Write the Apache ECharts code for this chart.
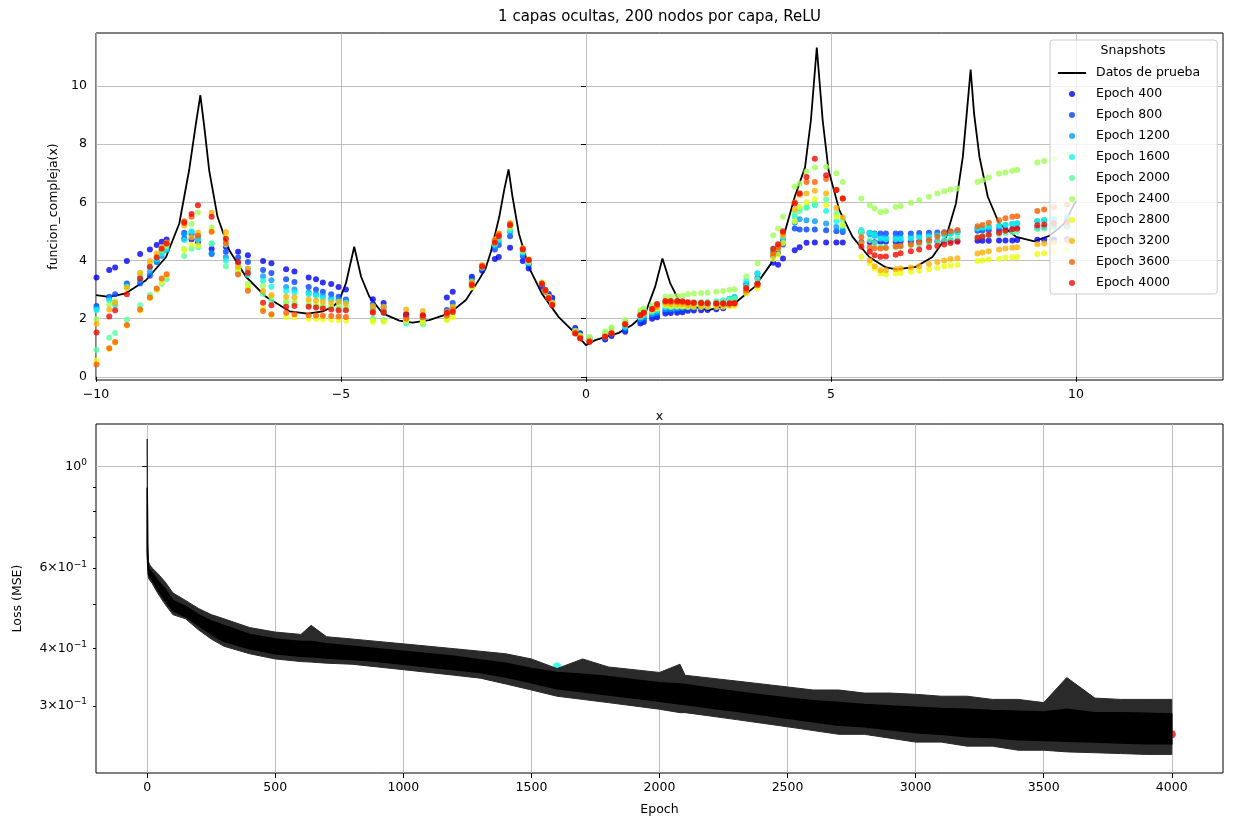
<!DOCTYPE html>
<html>
<head>
<meta charset="utf-8">
<script src="https://cdn.jsdelivr.net/npm/echarts@6/dist/echarts.min.js"></script>
<style>
  html, body { margin: 0; padding: 0; background: #fff; }
  #chart { width: 1233px; height: 826px; }
</style>
</head>
<body>
<div id="chart"></div>
<script>
// ==========================================
// Datos
// ==========================================
const SNAP_EPOCHS = [400, 800, 1200, 1600, 2000, 2400, 2800, 3200, 3600, 4000];

// curva de referencia "Datos de prueba"
const CURVE_X = [-10, -9.73, -9.39, -8.98, -8.57, -8.30, -8.10, -7.96, -7.87, -7.79, -7.69, -7.52, -7.28, -6.94,
  -6.53, -6.05, -5.68, -5.37, -5.17, -5.04, -4.90, -4.73, -4.59, -4.42, -4.15, -3.81, -3.54, -3.20, -2.79,
  -2.45, -2.18, -2.05, -1.94, -1.77, -1.67, -1.58, -1.50, -1.37, -1.17, -0.90, -0.56, -0.22, 0.0, 0.19,
  0.67, 0.94, 1.21, 1.41, 1.56, 1.72, 1.89, 2.18, 2.50, 3.03, 3.44, 3.78, 4.05, 4.26, 4.47, 4.59, 4.71,
  4.83, 4.95, 5.17, 5.44, 5.78, 6.12, 6.33, 6.73, 7.07, 7.35, 7.55, 7.69, 7.77, 7.85, 7.92, 8.03, 8.20,
  8.43, 8.78, 9.15, 9.46, 9.75, 10.0];
const CURVE_Y = [2.81, 2.75, 2.87, 3.32, 4.12, 5.27, 7.10, 8.71, 9.68, 8.59, 7.10, 5.50, 4.35, 3.44,
  2.75, 2.25, 2.17, 2.25, 2.41, 2.60, 3.21, 4.47, 3.44, 2.75, 2.18, 1.93, 1.86, 1.95, 2.18,
  2.64, 3.35, 3.72, 4.30, 5.50, 6.42, 7.13, 6.19, 4.93, 3.78, 2.86, 2.06, 1.49, 1.09, 1.26,
  1.51, 1.78, 2.18, 3.09, 4.07, 3.21, 2.64, 2.41, 2.29, 2.52, 3.09, 3.90, 4.93, 6.19, 7.20, 8.82, 11.32,
  8.82, 7.10, 5.73, 4.81, 4.12, 3.76, 3.69, 3.78, 4.12, 4.81, 5.96, 7.56, 9.05, 10.56, 9.05, 7.56, 6.19,
  5.27, 4.81, 4.66, 4.85, 5.25, 6.05];

// puntos x de prueba compartidos por todos los snapshots
const X_TEST = [-9.99, -9.73, -9.61, -9.37, -9.10, -8.90, -8.76, -8.66, -8.56, -8.20,
  -8.05, -7.92, -7.64, -7.35, -7.10, -6.90, -6.59, -6.42, -6.12, -5.95,
  -5.66, -5.51, -5.37, -5.20, -5.05, -4.90, -4.35, -4.13, -3.67, -3.33,
  -2.84, -2.72, -2.33, -2.12, -1.86, -1.78, -1.55, -1.29, -1.17, -0.90,
  -0.83, -0.76, -0.69, -0.22, -0.12, 0.07, 0.39, 0.52, 0.80, 1.11,
  1.18, 1.35, 1.45, 1.62, 1.73, 1.86, 1.97, 2.08, 2.20, 2.35,
  2.48, 2.66, 2.80, 2.93, 3.03, 3.27, 3.50, 3.82, 3.92, 4.02,
  4.26, 4.36, 4.50, 4.67, 4.90, 5.11, 5.24, 5.62, 5.79, 5.89,
  6.01, 6.12, 6.32, 6.42, 6.63, 6.80, 7.00, 7.17, 7.31, 7.44,
  7.58, 7.99, 8.09, 8.22, 8.43, 8.56, 8.70, 8.80, 9.21, 9.35,
  9.55, 9.82];

// predicciones de la red en cada snapshot
const PRED_E400 = [3.41, 3.67, 3.76, 3.98, 4.22, 4.38, 4.53, 4.64, 4.72, 4.75,
  4.72, 4.62, 4.39, 4.47, 4.30, 4.18, 3.98, 3.90, 3.70, 3.62,
  3.41, 3.35, 3.24, 3.19, 3.09, 3.00, 2.67, 2.54, 2.15, 2.10,
  2.73, 2.92, 3.44, 3.65, 4.05, 4.12, 4.44, 3.98, 3.72, 3.10,
  2.98, 2.85, 2.72, 1.68, 1.50, 1.28, 1.28, 1.40, 1.55, 1.83,
  1.88, 2.00, 2.05, 2.18, 2.19, 2.20, 2.22, 2.27, 2.28, 2.29,
  2.30, 2.32, 2.36, 2.45, 2.55, 2.90, 3.20, 3.92, 3.85, 4.07,
  4.35, 4.45, 4.61, 4.62, 4.62, 4.62, 4.62, 4.63, 4.63, 4.63,
  4.64, 4.64, 4.64, 4.65, 4.65, 4.65, 4.66, 4.66, 4.67, 4.67,
  4.67, 4.68, 4.68, 4.68, 4.69, 4.69, 4.69, 4.70, 4.71, 4.71,
  4.72, 4.73];
const PRED_E800 = [2.43, 2.75, 2.84, 3.21, 3.21, 3.47, 3.95, 4.30, 4.55, 4.95,
  4.90, 4.75, 4.22, 4.30, 4.10, 3.95, 3.67, 3.57, 3.35, 3.26,
  3.09, 3.00, 2.92, 2.84, 2.75, 2.66, 2.50, 2.40, 2.10, 2.05,
  2.30, 2.54, 3.40, 3.72, 4.38, 4.53, 4.83, 4.15, 3.85, 3.15,
  2.95, 2.75, 2.60, 1.62, 1.45, 1.25, 1.32, 1.45, 1.62, 1.92,
  1.98, 2.08, 2.12, 2.25, 2.26, 2.28, 2.30, 2.35, 2.38, 2.40,
  2.42, 2.48, 2.55, 2.65, 2.72, 3.15, 3.40, 4.15, 4.25, 4.55,
  5.10, 5.06, 5.06, 5.06, 5.04, 5.00, 4.98, 4.99, 4.95, 4.93,
  4.93, 4.93, 4.93, 4.93, 4.93, 4.94, 4.95, 4.96, 4.97, 4.98,
  5.00, 5.02, 5.03, 5.04, 5.05, 5.06, 5.07, 5.08, 5.12, 5.13,
  5.15, 5.18];
const PRED_E1200 = [2.35, 2.69, 2.55, 3.15, 3.30, 3.60, 3.95, 4.15, 4.35, 4.90,
  4.98, 4.85, 4.25, 4.12, 3.90, 3.70, 3.46, 3.32, 3.09, 3.00,
  2.90, 2.85, 2.78, 2.70, 2.65, 2.60, 2.40, 2.30, 2.05, 2.00,
  2.20, 2.40, 3.30, 3.75, 4.50, 4.65, 4.98, 4.22, 3.90, 3.18,
  2.95, 2.70, 2.55, 1.58, 1.42, 1.25, 1.35, 1.48, 1.68, 1.98,
  2.05, 2.15, 2.20, 2.32, 2.33, 2.35, 2.37, 2.42, 2.45, 2.47,
  2.50, 2.55, 2.60, 2.68, 2.74, 3.20, 3.55, 4.30, 4.40, 4.70,
  5.30, 5.42, 5.38, 5.35, 5.27, 5.15, 5.05, 4.95, 4.90, 4.85,
  4.80, 4.78, 4.78, 4.78, 4.80, 4.82, 4.85, 4.88, 4.90, 4.93,
  4.97, 5.10, 5.12, 5.15, 5.18, 5.22, 5.25, 5.27, 5.35, 5.38,
  5.42, 5.48];
const PRED_E1600 = [2.30, 2.62, 2.46, 3.10, 3.45, 3.75, 4.05, 4.25, 4.40, 4.70,
  5.00, 4.72, 4.58, 4.00, 3.75, 3.50, 3.30, 3.10, 2.95, 2.90,
  2.84, 2.78, 2.70, 2.63, 2.58, 2.55, 2.30, 2.20, 1.83, 1.85,
  2.10, 2.30, 3.25, 3.78, 4.55, 4.72, 5.05, 4.28, 3.92, 3.20,
  2.92, 2.70, 2.52, 1.55, 1.40, 1.28, 1.40, 1.52, 1.72, 2.05,
  2.12, 2.22, 2.28, 2.40, 2.40, 2.42, 2.43, 2.48, 2.50, 2.52,
  2.55, 2.58, 2.62, 2.68, 2.73, 3.30, 3.55, 4.35, 4.45, 4.80,
  5.50, 5.79, 5.84, 5.90, 5.70, 5.35, 5.20, 5.05, 4.95, 4.90,
  4.75, 4.72, 4.72, 4.73, 4.75, 4.78, 4.82, 4.86, 4.88, 4.92,
  4.96, 5.10, 5.13, 5.16, 5.20, 5.23, 5.26, 5.28, 5.36, 5.38,
  5.42, 5.48];
const PRED_E2000 = [0.92, 1.34, 1.51, 1.97, 2.46, 2.81, 3.00, 3.20, 3.35, 4.15,
  4.40, 4.45, 4.58, 3.80, 3.55, 3.07, 2.85, 2.60, 2.54, 2.50,
  2.45, 2.42, 2.40, 2.40, 2.35, 2.33, 2.00, 1.95, 1.88, 1.81,
  2.00, 2.25, 3.15, 3.75, 4.58, 4.78, 5.10, 4.32, 3.95, 3.22,
  2.95, 2.72, 2.52, 1.55, 1.40, 1.35, 1.52, 1.65, 1.88, 2.20,
  2.28, 2.38, 2.42, 2.55, 2.55, 2.55, 2.55, 2.55, 2.56, 2.57,
  2.58, 2.60, 2.62, 2.65, 2.68, 3.10, 3.35, 4.40, 4.55, 4.95,
  5.60, 5.70, 5.80, 5.95, 6.10, 5.60, 5.40, 4.95, 4.70, 4.60,
  4.47, 4.45, 4.46, 4.48, 4.52, 4.55, 4.62, 4.66, 4.70, 4.73,
  4.76, 4.81, 4.84, 4.87, 4.91, 4.94, 4.97, 4.99, 5.08, 5.10,
  5.14, 5.18];
const PRED_E2400 = [1.98, 2.49, 2.60, 3.05, 3.55, 3.92, 4.15, 4.35, 4.50, 4.40,
  5.25, 5.65, 5.13, 4.55, 3.65, 3.20, 3.12, 2.75, 2.60, 2.55,
  2.50, 2.48, 2.45, 2.42, 2.40, 2.38, 1.95, 1.92, 1.90, 1.85,
  1.98, 2.20, 3.10, 3.80, 4.60, 4.85, 5.15, 4.35, 3.98, 3.25,
  2.98, 2.75, 2.55, 1.58, 1.42, 1.38, 1.56, 1.70, 1.95, 2.29,
  2.35, 2.45, 2.50, 2.75, 2.75, 2.78, 2.79, 2.85, 2.86, 2.88,
  2.89, 2.92, 2.95, 2.98, 3.01, 3.45, 3.90, 4.87, 5.10, 5.50,
  6.53, 6.65, 7.05, 7.20, 7.22, 7.00, 6.70, 6.13, 5.90, 5.79,
  5.67, 5.69, 5.84, 5.87, 5.98, 6.07, 6.19, 6.30, 6.38, 6.44,
  6.47, 6.70, 6.76, 6.85, 6.99, 7.02, 7.08, 7.12, 7.37, 7.42,
  7.50, 7.65];
const PRED_E2800 = [0.55, 0.96, 1.18, 1.76, 2.28, 2.70, 2.98, 3.25, 3.48, 4.35,
  4.55, 4.52, 5.00, 4.85, 3.72, 3.07, 2.35, 2.12, 2.06, 2.05,
  2.00, 1.99, 1.98, 1.96, 1.95, 1.93, 1.89, 1.89, 1.95, 1.90,
  1.95, 2.05, 3.07, 3.80, 4.65, 4.90, 5.20, 4.40, 4.00, 3.22,
  2.95, 2.72, 2.50, 1.52, 1.35, 1.25, 1.40, 1.52, 1.80, 2.10,
  2.18, 2.28, 2.35, 2.45, 2.42, 2.42, 2.42, 2.40, 2.40, 2.40,
  2.40, 2.40, 2.41, 2.42, 2.43, 2.86, 3.05, 4.05, 4.20, 4.60,
  5.35, 5.85, 6.00, 6.10, 5.90, 5.50, 5.21, 4.12, 3.90, 3.72,
  3.55, 3.52, 3.55, 3.57, 3.61, 3.65, 3.70, 3.75, 3.80, 3.83,
  3.85, 3.98, 4.00, 4.03, 4.06, 4.09, 4.11, 4.12, 4.22, 4.25,
  4.30, 4.35];
const PRED_E3200 = [1.82, 2.31, 2.54, 3.07, 3.57, 3.98, 4.24, 4.45, 4.62, 5.20,
  4.80, 4.95, 5.64, 4.98, 3.78, 3.72, 2.95, 2.81, 2.75, 2.73,
  2.66, 2.62, 2.58, 2.55, 2.58, 2.52, 2.43, 2.41, 2.31, 2.26,
  2.23, 2.41, 3.26, 3.84, 4.72, 4.93, 5.29, 4.42, 4.03, 3.20,
  2.96, 2.72, 2.52, 1.55, 1.38, 1.25, 1.40, 1.52, 1.82, 2.12,
  2.20, 2.32, 2.40, 2.52, 2.50, 2.50, 2.50, 2.48, 2.48, 2.47,
  2.47, 2.46, 2.47, 2.48, 2.49, 2.95, 3.15, 4.20, 4.40, 4.85,
  5.75, 6.25, 6.30, 6.40, 6.30, 5.80, 5.48, 4.60, 4.00, 3.80,
  3.66, 3.66, 3.70, 3.72, 3.76, 3.80, 3.88, 3.95, 4.00, 4.05,
  4.08, 4.24, 4.27, 4.32, 4.38, 4.41, 4.44, 4.45, 4.56, 4.58,
  4.62, 4.67];
const PRED_E3600 = [0.42, 0.98, 1.20, 1.78, 2.31, 2.73, 3.04, 3.38, 3.53, 5.35,
  5.50, 4.85, 4.99, 4.60, 3.52, 2.96, 2.26, 2.15, 2.20, 2.15,
  2.12, 2.11, 2.10, 2.09, 2.07, 2.06, 2.25, 2.25, 2.00, 2.05,
  2.10, 2.30, 3.20, 3.82, 4.68, 4.90, 5.25, 4.40, 4.02, 3.22,
  2.92, 2.70, 2.48, 1.50, 1.33, 1.22, 1.38, 1.50, 1.80, 2.12,
  2.20, 2.32, 2.45, 2.58, 2.57, 2.57, 2.56, 2.55, 2.55, 2.54,
  2.53, 2.52, 2.52, 2.53, 2.54, 2.98, 3.15, 4.25, 4.45, 4.95,
  6.00, 6.30, 6.70, 6.70, 6.80, 6.42, 6.13, 4.80, 4.45, 4.42,
  4.41, 4.43, 4.48, 4.50, 4.55, 4.62, 4.70, 4.82, 4.95, 5.00,
  5.05, 5.18, 5.22, 5.30, 5.38, 5.45, 5.50, 5.52, 5.70, 5.75,
  5.82, 5.92];
const PRED_E4000 = [1.52, 2.07, 2.29, 2.84, 3.38, 3.78, 4.10, 4.40, 4.58, 5.30,
  5.60, 5.90, 5.50, 4.75, 3.95, 3.57, 2.55, 2.46, 2.41, 2.43,
  2.41, 2.38, 2.35, 2.31, 2.29, 2.29, 2.20, 2.20, 2.14, 2.12,
  2.20, 2.23, 3.15, 3.78, 4.61, 4.83, 5.21, 4.38, 4.01, 3.19,
  2.98, 2.70, 2.46, 1.49, 1.32, 1.20, 1.38, 1.49, 1.81, 2.12,
  2.20, 2.33, 2.50, 2.61, 2.61, 2.61, 2.60, 2.56, 2.55, 2.54,
  2.53, 2.52, 2.52, 2.52, 2.53, 3.05, 3.20, 4.40, 4.56, 5.00,
  5.96, 6.30, 6.87, 7.50, 6.93, 6.42, 6.13, 4.47, 4.30, 4.18,
  4.13, 4.14, 4.20, 4.25, 4.32, 4.38, 4.45, 4.50, 4.55, 4.60,
  4.64, 4.78, 4.82, 4.88, 4.95, 5.02, 5.07, 5.10, 5.21, 5.24,
  5.28, 5.33];
const PREDS = [PRED_E400, PRED_E800, PRED_E1200, PRED_E1600, PRED_E2000,
  PRED_E2400, PRED_E2800, PRED_E3200, PRED_E3600, PRED_E4000];

// perdida de entrenamiento: extremos (picos) y nucleo denso de la curva ruidosa
const LOSS_EPOCHS = [0, 2, 5, 10, 20, 40, 70, 100, 150, 200, 250, 300, 400, 500, 600, 640, 700, 800, 900,
  1000, 1100, 1200, 1300, 1400, 1500, 1600, 1700, 1800, 1900, 2000, 2080, 2100, 2200, 2300, 2400, 2500,
  2600, 2700, 2800, 2900, 3000, 3100, 3200, 3300, 3400, 3500, 3590, 3700, 3800, 3900, 4000];
const LOSS_UPPER = [1.15, 0.68, 0.62, 0.61, 0.60, 0.585, 0.56, 0.53, 0.51, 0.49, 0.475, 0.465, 0.445, 0.435,
  0.43, 0.45, 0.425, 0.42, 0.415, 0.41, 0.405, 0.40, 0.395, 0.39, 0.38, 0.362, 0.38, 0.365, 0.36, 0.355,
  0.37, 0.35, 0.345, 0.34, 0.335, 0.33, 0.325, 0.325, 0.32, 0.32, 0.318, 0.315, 0.315, 0.31, 0.31, 0.305,
  0.346, 0.312, 0.31, 0.31, 0.31];
const LOSS_LOWER = [0.64, 0.60, 0.57, 0.565, 0.555, 0.53, 0.50, 0.475, 0.465, 0.44, 0.42, 0.405, 0.39, 0.38,
  0.375, 0.374, 0.372, 0.37, 0.365, 0.36, 0.355, 0.35, 0.345, 0.335, 0.325, 0.315, 0.31, 0.305, 0.30, 0.295,
  0.29, 0.29, 0.285, 0.28, 0.275, 0.27, 0.265, 0.26, 0.26, 0.255, 0.25, 0.25, 0.245, 0.245, 0.24, 0.24,
  0.238, 0.237, 0.236, 0.235, 0.235];
const LOSS_CORE_UPPER = [0.90, 0.64, 0.60, 0.595, 0.585, 0.565, 0.54, 0.51, 0.495, 0.475, 0.46, 0.45, 0.43,
  0.42, 0.415, 0.415, 0.41, 0.405, 0.40, 0.395, 0.39, 0.385, 0.378, 0.372, 0.362, 0.355, 0.352, 0.348, 0.342,
  0.337, 0.335, 0.334, 0.328, 0.322, 0.317, 0.312, 0.308, 0.305, 0.302, 0.30, 0.298, 0.296, 0.295, 0.293,
  0.292, 0.291, 0.295, 0.29, 0.29, 0.289, 0.288];
const LOSS_CORE_LOWER = [0.66, 0.61, 0.58, 0.575, 0.565, 0.54, 0.51, 0.485, 0.47, 0.45, 0.43, 0.415, 0.40,
  0.39, 0.385, 0.384, 0.382, 0.379, 0.375, 0.37, 0.365, 0.36, 0.355, 0.347, 0.337, 0.327, 0.322, 0.317,
  0.312, 0.307, 0.303, 0.302, 0.297, 0.292, 0.287, 0.282, 0.277, 0.272, 0.27, 0.266, 0.262, 0.26, 0.257,
  0.256, 0.253, 0.252, 0.251, 0.25, 0.249, 0.248, 0.248];
// perdida en cada snapshot (marcadores de color)
const SNAP_LOSS = [0.40, 0.38, 0.37, 0.366, 0.33, 0.31, 0.30, 0.28, 0.27, 0.26];

// ejes
const TOP_X_TICKS = [-10, -5, 0, 5, 10];
const TOP_Y_TICKS = [0, 2, 4, 6, 8, 10];
const LOSS_X_TICKS = [0, 500, 1000, 1500, 2000, 2500, 3000, 3500, 4000];
const LOSS_Y_LABELS = [0.3, 0.4, 0.6, 1];
const LOSS_Y_MINOR = [0.3, 0.4, 0.5, 0.6, 0.7, 0.8, 0.9];

// ==========================================
// Estilos
// ==========================================
// colormap jet, muestreado entre 0.1 y 0.9
const SNAP_COLORS = ['#0000f3', '#0041ff', '#009cff', '#0ef7e9', '#57ffa0',
  '#a0ff57', '#e9ff0e', '#ffb100', '#ff5d00', '#f30900'];
const FONT = 'DejaVu Sans';
const GRID_COLOR = '#b0b0b0';

function minus(v) {
  return String(v).replace('-', '\u2212');
}

function logLabel(v) {
  const k = Math.round(v * 10);
  if (k === 10) return '{b|10}{s|0}';
  return '{b|' + k + '\u00d710}{s|\u22121}';
}

const labelStyle = { color: '#000', fontSize: 12.5, fontFamily: FONT };
const tickStyle = { lineStyle: { color: '#000', width: 1 } };

// banda entre dos envolventes, dibujada con las escalas del eje
function bandRenderer(upper, lower, style) {
  return function (params, api) {
    const top = LOSS_EPOCHS.map((e, i) => api.coord([e, upper[i]]));
    const bottom = LOSS_EPOCHS.map((e, i) => api.coord([e, lower[i]])).reverse();
    return { type: 'polygon', shape: { points: top.concat(bottom) }, style: style };
  };
}

// ==========================================
// Series
// ==========================================
const series = [];

series.push({
  name: 'Datos de prueba',
  type: 'line',
  xAxisIndex: 0, yAxisIndex: 0,
  data: CURVE_X.map((x, i) => [x, CURVE_Y[i]]),
  symbol: 'none',
  lineStyle: { color: '#000', width: 1.8 },
  itemStyle: { color: '#000' },
  z: 2,
  silent: true
});

PREDS.forEach((ys, k) => {
  series.push({
    name: 'Epoch ' + SNAP_EPOCHS[k],
    type: 'scatter',
    xAxisIndex: 0, yAxisIndex: 0,
    data: X_TEST.map((x, i) => [x, ys[i]]),
    symbol: 'circle',
    symbolSize: 6,
    itemStyle: { color: SNAP_COLORS[k], opacity: 0.8 },
    z: 3,
    silent: true
  });
});

// marcadores de snapshot en la curva de perdida (quedan debajo de la linea)
series.push({
  name: 'snap-loss',
  type: 'scatter',
  xAxisIndex: 1, yAxisIndex: 1,
  data: SNAP_EPOCHS.map((e, i) => ({ value: [e, SNAP_LOSS[i]], itemStyle: { color: SNAP_COLORS[i] } })),
  symbolSize: 8,
  z: 2,
  silent: true
});

// picos del ruido
series.push({
  name: 'loss-spikes',
  type: 'custom',
  xAxisIndex: 1, yAxisIndex: 1,
  data: [[0, 0.5]],
  z: 3,
  silent: true,
  renderItem: bandRenderer(LOSS_UPPER, LOSS_LOWER, { fill: '#2a2a2a', stroke: '#2a2a2a', lineWidth: 1 })
});

// nucleo denso de la curva de perdida
series.push({
  name: 'loss-core',
  type: 'custom',
  xAxisIndex: 1, yAxisIndex: 1,
  data: [[0, 0.5]],
  z: 4,
  silent: true,
  renderItem: bandRenderer(LOSS_CORE_UPPER, LOSS_CORE_LOWER, { fill: '#000', stroke: '#000', lineWidth: 1.5 })
});

// ==========================================
// Opciones
// ==========================================
const option = {
  animation: false,
  backgroundColor: '#fff',
  textStyle: { fontFamily: FONT },
  grid: [
    { left: 96, top: 33, right: 10, height: 347, show: true, borderColor: '#000', borderWidth: 1, backgroundColor: 'transparent' },
    { left: 96, top: 424, right: 10, height: 349, show: true, borderColor: '#000', borderWidth: 1, backgroundColor: 'transparent' }
  ],
  xAxis: [
    {
      type: 'value', gridIndex: 0, min: -10, max: 13, minInterval: 5, maxInterval: 5,
      name: 'x', nameLocation: 'middle', nameGap: 30, nameTextStyle: labelStyle,
      axisLine: { show: false },
      axisTick: Object.assign({ show: true, length: 5, customValues: TOP_X_TICKS }, tickStyle),
      axisLabel: Object.assign({ margin: 8, customValues: TOP_X_TICKS, formatter: minus }, labelStyle),
      splitLine: { show: true, lineStyle: { color: GRID_COLOR, width: 0.8 } }
    },
    {
      type: 'value', gridIndex: 1, min: -200, max: 4200, minInterval: 500, maxInterval: 500,
      name: 'Epoch', nameLocation: 'middle', nameGap: 30, nameTextStyle: labelStyle,
      axisLine: { show: false },
      axisTick: Object.assign({ show: true, length: 5, customValues: LOSS_X_TICKS }, tickStyle),
      axisLabel: Object.assign({ margin: 8, customValues: LOSS_X_TICKS, formatter: v => String(v) }, labelStyle),
      splitLine: { show: true, lineStyle: { color: GRID_COLOR, width: 0.8 } }
    }
  ],
  yAxis: [
    {
      type: 'value', gridIndex: 0, min: -0.11, max: 11.82, minInterval: 2, maxInterval: 2,
      name: 'funcion_compleja(x)', nameLocation: 'middle', nameGap: 34, nameTextStyle: labelStyle,
      axisLine: { show: false },
      axisTick: Object.assign({ show: true, length: 5, customValues: TOP_Y_TICKS }, tickStyle),
      axisLabel: Object.assign({ margin: 9, customValues: TOP_Y_TICKS }, labelStyle),
      splitLine: { show: true, lineStyle: { color: GRID_COLOR, width: 0.8 } }
    },
    {
      type: 'log', gridIndex: 1, position: 'left', min: 0.214, max: 1.24, logBase: 10,
      name: 'Loss (MSE)', nameLocation: 'middle', nameGap: 72, nameTextStyle: labelStyle,
      axisLine: { show: false },
      axisTick: Object.assign({ show: true, length: 5, customValues: [1] }, tickStyle),
      axisLabel: {
        margin: 9, customValues: LOSS_Y_LABELS, formatter: logLabel,
        rich: {
          b: { fontSize: 12.5, color: '#000', fontFamily: FONT },
          s: { fontSize: 9, color: '#000', fontFamily: FONT, padding: [0, 0, 8, 0] }
        }
      },
      splitLine: { show: true, lineStyle: { color: GRID_COLOR, width: 0.8 } }
    },
    {
      type: 'log', gridIndex: 1, position: 'left', offset: 0, min: 0.214, max: 1.24, logBase: 10,
      axisLine: { show: false },
      axisTick: Object.assign({ show: true, length: 3, customValues: LOSS_Y_MINOR }, tickStyle),
      axisLabel: { show: false },
      splitLine: { show: false }
    }
  ],
  legend: {
    left: 1050, top: 40, orient: 'vertical',
    padding: [25, 17, 3, 7],
    itemWidth: 28, itemHeight: 6, itemGap: 5,
    selectedMode: false,
    backgroundColor: 'rgba(255,255,255,0.8)',
    borderColor: '#cccccc', borderWidth: 1, borderRadius: 3,
    textStyle: { color: '#000', fontSize: 12.5, fontFamily: FONT, lineHeight: 16, padding: [0, 0, 0, 5] },
    data: [{ name: 'Datos de prueba', itemStyle: { opacity: 0 } }].concat(SNAP_EPOCHS.map(e => 'Epoch ' + e))
  },
  graphic: [
    {
      type: 'text', x: 659.5, y: 17, z: 10,
      style: { text: '1 capas ocultas, 200 nodos por capa, ReLU', fill: '#000',
        font: '15px "DejaVu Sans"', textAlign: 'center', textVerticalAlign: 'middle',
        align: 'center', verticalAlign: 'middle' }
    },
    {
      type: 'text', x: 1133, y: 51, z: 10,
      style: { text: 'Snapshots', fill: '#000', font: '12.5px "DejaVu Sans"',
        textAlign: 'center', textVerticalAlign: 'middle', align: 'center', verticalAlign: 'middle' }
    }
  ],
  series: series
};

const chart = echarts.init(document.getElementById('chart'), null, { renderer: 'canvas' });
chart.setOption(option);
</script>
</body>
</html>
